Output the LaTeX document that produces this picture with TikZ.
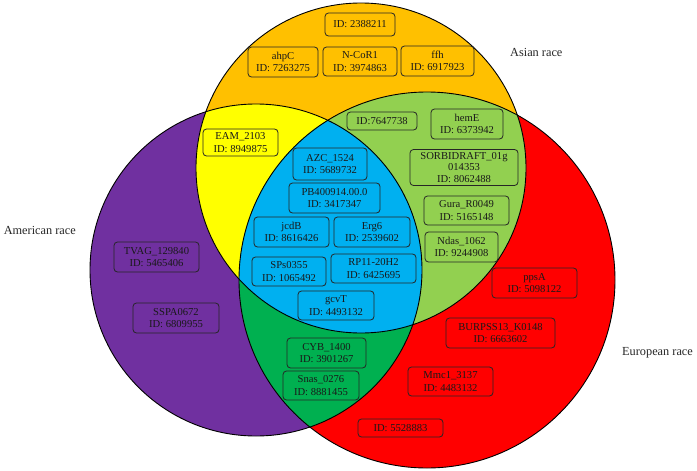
\documentclass[tikz,border=0pt]{standalone}
\usepackage{fontspec}
\setmainfont{Liberation Serif}
\definecolor{cOrange}{HTML}{FFC000}
\definecolor{cPurple}{HTML}{7030A0}
\definecolor{cRed}{HTML}{FF0000}
\definecolor{cYellow}{HTML}{FFFF00}
\definecolor{cLGreen}{HTML}{92D050}
\definecolor{cBlue}{HTML}{00B0F0}
\definecolor{cDGreen}{HTML}{00B050}
\newcommand{\genefont}{\fontsize{10.6}{12.3}\selectfont}
\newcommand{\racefont}{\fontsize{12.3}{14}\selectfont}
\tikzset{
  gene/.style={draw=black!85, line width=0.8pt, rounded corners=3.5pt, inner sep=0pt,
    align=center, font=\genefont, text=black!90},
  racelabel/.style={inner sep=0pt, font=\racefont, text=black!85},
  ring/.style={draw=black, line width=0.9pt}
}
\begin{document}
\begin{tikzpicture}[x=1pt,y=-1pt]
\useasboundingbox (0,0) rectangle (697,471);
% circles: Asian (orange), American (purple), European (red)
\coordinate (cA) at (361,168);
\coordinate (cM) at (256,270);
\coordinate (cE) at (427,280);
\def\rA{165pt}\def\rM{166pt}\def\rE{188pt}
\fill[cPurple] (cM) circle[radius=\rM];
\fill[cOrange] (cA) circle[radius=\rA];
\fill[cRed] (cE) circle[radius=\rE];
\begin{scope}
  \clip (cA) circle[radius=\rA];
  \fill[cYellow] (cM) circle[radius=\rM];
  \fill[cLGreen] (cE) circle[radius=\rE];
\end{scope}
\begin{scope}
  \clip (cM) circle[radius=\rM];
  \fill[cDGreen] (cE) circle[radius=\rE];
  \clip (cE) circle[radius=\rE];
  \fill[cBlue] (cA) circle[radius=\rA];
\end{scope}
\draw[ring] (cM) circle[radius=\rM];
\draw[ring] (cA) circle[radius=\rA];
\draw[ring] (cE) circle[radius=\rE];

% race labels
\node[racelabel, anchor=west] (asian) at (510,52) {Asian race};
\node[racelabel, anchor=east] (american) at (76,230) {American race};
\node[racelabel, anchor=west] (european) at (622,353) {European race};

% Asian only
\node[gene, minimum width=70pt, minimum height=23pt] (g1) at (360,24.5) {ID: 2388211};
\node[gene, minimum width=70pt, minimum height=30pt] (g2) at (283,62) {ahpC\\ID: 7263275};
\node[gene, minimum width=74pt, minimum height=29pt] (g3) at (360,61.5) {N-CoR1\\ID: 3974863};
\node[gene, minimum width=73pt, minimum height=30pt] (g4) at (437.5,61) {ffh\\ID: 6917923};
% Asian & European
\node[gene, minimum width=70pt, minimum height=18pt] (g5) at (382,121) {ID:7647738};
\node[gene, minimum width=72pt, minimum height=30pt] (g6) at (467,124) {hemE\\ID: 6373942};
\node[gene, minimum width=108pt, minimum height=36pt, font=\fontsize{10.6}{11.8}\selectfont] (g7) at (464,167.5) {SORBIDRAFT\_01g\\014353\\ID: 8062488};
\node[gene, minimum width=85pt, minimum height=29pt] (g8) at (466.5,210.5) {Gura\_R0049\\ID: 5165148};
\node[gene, minimum width=73pt, minimum height=30pt] (g9) at (461.5,247) {Ndas\_1062\\ID: 9244908};
% Asian & American
\node[gene, minimum width=75pt, minimum height=27pt] (g10) at (240.5,142.5) {EAM\_2103\\ID: 8949875};
% all three
\node[gene, minimum width=74pt, minimum height=32pt] (g11) at (330,164) {AZC\_1524\\ID: 5689732};
\node[gene, minimum width=91pt, minimum height=30pt] (g12) at (334.5,198) {PB400914.00.0\\ID: 3417347};
\node[gene, minimum width=75pt, minimum height=30pt] (g13) at (291.5,232) {jcdB\\ID: 8616426};
\node[gene, minimum width=76pt, minimum height=30pt] (g14) at (372,232) {Erg6\\ID: 2539602};
\node[gene, minimum width=74pt, minimum height=29pt] (g15) at (289,271.5) {SPs0355\\ID: 1065492};
\node[gene, minimum width=85pt, minimum height=29pt] (g16) at (373.5,268.5) {RP11-20H2\\ID: 6425695};
\node[gene, minimum width=76pt, minimum height=29pt] (g17) at (336,305.5) {gcvT\\ID: 4493132};
% American only
\node[gene, minimum width=85pt, minimum height=30pt] (g18) at (156.5,257) {TVAG\_129840\\ID: 5465406};
\node[gene, minimum width=86pt, minimum height=30pt] (g19) at (176,318) {SSPA0672\\ID: 6809955};
% American & European
\node[gene, minimum width=79pt, minimum height=30pt] (g20) at (326.5,353) {CYB\_1400\\ID: 3901267};
\node[gene, minimum width=76pt, minimum height=29pt] (g21) at (321,385.5) {Snas\_0276\\ID: 8881455};
% European only
\node[gene, minimum width=85pt, minimum height=30pt] (g22) at (534.5,283) {ppsA\\ID: 5098122};
\node[gene, minimum width=109pt, minimum height=30pt] (g23) at (500.5,333) {BURPSS13\_K0148\\ID: 6663602};
\node[gene, minimum width=85pt, minimum height=29pt] (g24) at (450.5,381.5) {Mmc1\_3137\\ID: 4483132};
\node[gene, minimum width=85pt, minimum height=18pt] (g25) at (400.5,428) {ID: 5528883};
\end{tikzpicture}
\end{document}
